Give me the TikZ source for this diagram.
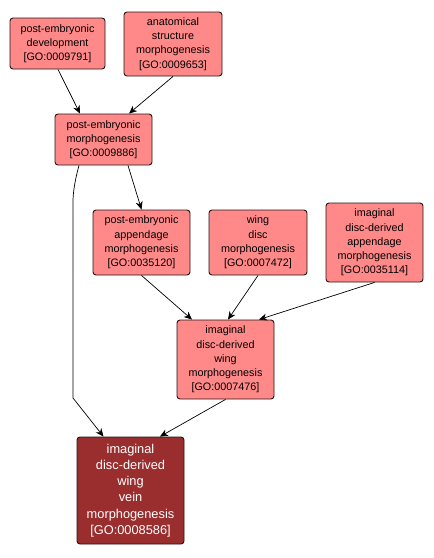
\documentclass[tikz,border=0pt]{standalone}
\usepackage{fontspec}
\setmainfont{Liberation Sans}
\usetikzlibrary{arrows.meta,calc}
\definecolor{goLight}{RGB}{255,137,137}
\definecolor{goDark}{RGB}{154,46,46}
\definecolor{goBorder}{RGB}{40,20,20}
\tikzset{
  goterm/.style={draw=goBorder, line width=0.9pt, fill=goLight, rounded corners=3pt,
    align=center, inner sep=0pt, text=black,
    font=\fontsize{10.8}{14.2}\selectfont},
  goroot/.style={goterm, fill=goDark, text=white,
    font=\fontsize{12.8}{16.2}\selectfont},
  link/.style={draw=black, line width=0.7pt, -{Stealth[length=8pt,width=7pt,inset=2.5pt]}},
}
\begin{document}
\begin{tikzpicture}[x=1pt,y=-1pt]
\useasboundingbox (0,0) rectangle (434,558);
\fill[white] (0,0) rectangle (434,558);
\node[goterm, minimum width=95pt, minimum height=51pt] (A) at (57.5,43.5)
  {post-embryonic\\development\\{[GO:0009791]}};
\node[goterm, minimum width=98pt, minimum height=64pt] (B) at (173,44)
  {anatomical\\structure\\morphogenesis\\{[GO:0009653]}};
\node[goterm, minimum width=97pt, minimum height=51pt] (C) at (103.5,139.5)
  {post-embryonic\\morphogenesis\\{[GO:0009886]}};
\node[goterm, minimum width=97pt, minimum height=65pt] (D) at (141.5,242.5)
  {post-embryonic\\appendage\\morphogenesis\\{[GO:0035120]}};
\node[goterm, minimum width=98pt, minimum height=65pt] (E) at (258,242.5)
  {wing\\disc\\morphogenesis\\{[GO:0007472]}};
\node[goterm, minimum width=97pt, minimum height=79pt] (F) at (374.5,242.5)
  {imaginal\\disc-derived\\appendage\\morphogenesis\\{[GO:0035114]}};
\node[goterm, minimum width=97pt, minimum height=79pt] (G) at (225.5,359.5)
  {imaginal\\disc-derived\\wing\\morphogenesis\\{[GO:0007476]}};
\node[goroot, minimum width=107pt, minimum height=107pt] (H) at (130.5,490.5)
  {imaginal\\disc-derived\\wing\\vein\\morphogenesis\\{[GO:0008586]}};
\coordinate (k1) at (73,202);
\coordinate (k2) at (73,398);
\draw[link] ($(A.south)+(0.5,0)$) -- ($(C.north)+(-23.5,0)$);
\draw[link] (B.south) -- ($(C.north)+(25.5,0)$);
\draw[link] ($(C.south)+(24.5,0)$) -- (D.north);
\draw[link] ($(C.south)+(-24.5,0)$) .. controls (75,180) and (73,192) .. (k1) -- (k2) -- ($(H.north)+(-27,0)$);
\draw[link] (D.south) -- ($(G.north)+(-33.5,0)$);
\draw[link] (E.south) -- ($(G.north)+(2.5,0)$);
\draw[link] (F.south) -- ($(G.north)+(33.5,0)$);
\draw[link] (G.south) -- ($(H.north)+(29.5,0)$);
\end{tikzpicture}
\end{document}
